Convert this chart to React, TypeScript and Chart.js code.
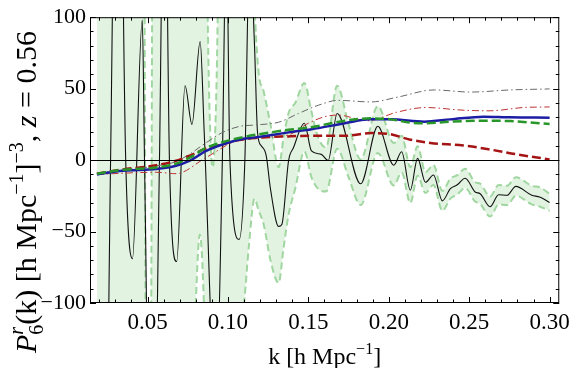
import React, { useEffect, useRef } from "react";
import { Chart, registerables } from "chart.js";

Chart.register(...registerables);

// ---------- data ----------
const kBlack = [0.0185, 0.0225, 0.027, 0.0315, 0.0364, 0.0406, 0.0467, 0.0481, 0.0525, 0.0574, 0.0605, 0.0636, 0.0681, 0.0733, 0.0776, 0.0827, 0.0852, 0.0925, 0.0965, 0.099, 0.1012, 0.107, 0.1105, 0.1135, 0.1165, 0.1184, 0.1207, 0.1238, 0.1264, 0.1315, 0.1335, 0.1377, 0.1407, 0.1475, 0.1519, 0.158, 0.1623, 0.1679, 0.1825, 0.1932, 0.2031, 0.208, 0.2134, 0.2179, 0.2228, 0.2278, 0.2333, 0.2383, 0.2426, 0.2475, 0.2537, 0.2568, 0.263, 0.2683, 0.2735, 0.279, 0.2889, 0.2938, 0.3];
const pBlack = [-200, -350, 0, 350, 0, -69, 98, 0, -300, 0, 250, 0, -71, 52, 25, 83, 20, -170, 0, 160, 0, -55.5, 0, 150, 80, 19, 10, 3, -20, -46.4, -45, -0.3, 8.6, 25.8, 6.5, 4, -0.3, 32.6, -16.6, 23.7, -3.6, 5.8, -21, 1.2, -15.5, -10.4, -28.5, -20, -17.3, -12.7, -22.3, -23.5, -32.6, -24.2, -24.6, -18.4, -24.6, -25.8, -29.7];

const kBand = [0.0185, 0.03, 0.046, 0.048, 0.049, 0.052, 0.053, 0.056, 0.076, 0.08, 0.0825, 0.085, 0.088, 0.0905, 0.093, 0.096, 0.1, 0.105, 0.11, 0.113, 0.1165, 0.119, 0.1222, 0.1264, 0.1315, 0.1345, 0.1377, 0.1418, 0.1475, 0.1519, 0.156, 0.161, 0.1679, 0.175, 0.1825, 0.1932, 0.2031, 0.208, 0.2134, 0.2179, 0.2228, 0.2278, 0.2333, 0.2383, 0.2426, 0.2475, 0.2537, 0.2568, 0.263, 0.2683, 0.2735, 0.279, 0.2889, 0.2938, 0.3];
const bandUpper = [400, 400, 400, 150, -150, -150, 150, 400, 400, 400, 400, 300, 60, -5, 60, 300, 400, 400, 350, 250, 110, 62, 48, 25, -5, 15, 33, 40, 54, 34, 16, 9, 52, 25, 0.5, 37.7, 12, 17, -5, 9.7, -8.5, -3.5, -21.5, -13, -10.5, -6, -15.5, -16.5, -25.5, -17.5, -18, -12, -18, -19, -23.5];
const bandLower = [-400, -400, -400, -400, -400, -400, -400, -400, -250, -100, -52, -100, -250, -400, -400, -300, -200, -140, -100, -60, -27, -35, -45, -70, -86, -62, -38, -20, 6, -12, -20, -22, 8, -12, -31.5, 5, -17.7, -8.6, -30, -10.9, -23, -17.5, -35.5, -27, -24, -19.5, -29, -30.5, -39.5, -31, -31.5, -25, -31, -32.5, -35.5];

const kBlue = [0.0185, 0.0348, 0.0554, 0.0677, 0.0759, 0.0862, 0.0965, 0.1068, 0.1171, 0.1377, 0.1519, 0.1727, 0.1889, 0.2012, 0.222, 0.2383, 0.2591, 0.2753, 0.3];
const pBlue = [-10, -7.4, -6.3, -4, -0.6, 6.3, 10.9, 14.3, 15.9, 19.4, 21.6, 25.8, 28.5, 28.5, 26.9, 28.5, 30.4, 29.9, 29.7];

const kGreen = [0.0185, 0.0348, 0.0554, 0.0677, 0.0759, 0.0862, 0.0965, 0.1068, 0.1171, 0.1377, 0.1519, 0.1727, 0.1889, 0.2012, 0.2134, 0.222, 0.2383, 0.2591, 0.2753, 0.3];
const pGreen = [-9.5, -6.8, -5.2, -2.5, 1.5, 8.5, 12.5, 15.5, 17.7, 21.2, 23, 27.6, 29.2, 28.5, 26.2, 25.8, 26.9, 27.6, 27.3, 25.3];

const kRed = [0.0185, 0.0348, 0.0554, 0.0677, 0.0759, 0.0862, 0.0965, 0.1068, 0.1171, 0.1377, 0.1519, 0.1727, 0.1889, 0.1994, 0.2134, 0.2259, 0.2464, 0.263, 0.2796, 0.3];
const pRed = [-9.5, -6.5, -3.6, -0.5, 3, 8, 11, 14, 15.5, 16.6, 17, 17, 18.9, 18.4, 14.3, 12, 10.2, 7.4, 4, 0.5];

const kGrayDD = [0.0185, 0.0554, 0.0677, 0.0759, 0.0862, 0.096, 0.1068, 0.1171, 0.1315, 0.1438, 0.1562, 0.1685, 0.1889, 0.2056, 0.2282, 0.2508, 0.2755, 0.3];
const pGrayDD = [-9, -4, -1, 4, 12, 19, 23.5, 24.6, 26.5, 32.6, 38.4, 41.8, 40.7, 44.1, 49.1, 47.6, 49.1, 49.8];

const kRedDD = [0.0185, 0.0554, 0.0677, 0.0862, 0.1068, 0.1377, 0.15, 0.1603, 0.1685, 0.1868, 0.2049, 0.2228, 0.2467, 0.263, 0.2836, 0.3];
const pRedDD = [-10, -8.5, -9.5, 1.7, 13.9, 17.7, 25.8, 30.4, 31.5, 27.5, 33.5, 36.8, 34.9, 34.5, 36.8, 37.2];

const xTickValues = [0.05, 0.1, 0.15, 0.2, 0.25, 0.3];
const yTickValues = [-100, -50, 0, 50, 100];

const SERIF = '"Liberation Serif", "Times New Roman", "DejaVu Serif", serif';

function pts(ks: number[], vs: number[]) {
  return ks.map((k, i) => ({ x: k, y: vs[i] }));
}

const framePlugin = {
  id: "frameTicks",
  afterDatasetsDraw(chart: any) {
    const { ctx, chartArea: a, scales } = chart;
    const xs = scales.x;
    const ys = scales.y;
    ctx.save();
    ctx.strokeStyle = "#000";
    ctx.lineWidth = 1;
    const y0 = Math.round(ys.getPixelForValue(0)) + 0.5;
    ctx.beginPath();
    ctx.moveTo(a.left, y0);
    ctx.lineTo(a.right, y0);
    ctx.stroke();
    ctx.strokeRect(a.left + 0.5, a.top + 0.5, a.right - a.left - 1, a.bottom - a.top - 1);
    ctx.beginPath();
    for (let i = 2; i <= 30; i++) {
      const px = Math.round(xs.getPixelForValue(i / 100)) + 0.5;
      const len = i % 5 === 0 ? 6 : 3.5;
      ctx.moveTo(px, a.bottom);
      ctx.lineTo(px, a.bottom - len);
      ctx.moveTo(px, a.top);
      ctx.lineTo(px, a.top + len);
    }
    for (let i = -10; i <= 10; i++) {
      const py = Math.round(ys.getPixelForValue(i * 10)) + 0.5;
      const len = i % 5 === 0 ? 6 : 3.5;
      ctx.moveTo(a.left, py);
      ctx.lineTo(a.left + len, py);
      ctx.moveTo(a.right, py);
      ctx.lineTo(a.right - len, py);
    }
    ctx.stroke();
    ctx.restore();
  },
};

type Piece = { t: string; font: string; dy: number; noAdv?: boolean };

function drawPieces(ctx: CanvasRenderingContext2D, pieces: Piece[], startX: number) {
  let x = startX;
  let pending = 0;
  for (const p of pieces) {
    ctx.font = p.font;
    const w = ctx.measureText(p.t).width;
    ctx.fillText(p.t, x, p.dy);
    if (p.noAdv) {
      pending = Math.max(pending, w);
    } else {
      x += Math.max(w, pending);
      pending = 0;
    }
  }
  return x;
}

function measurePieces(ctx: CanvasRenderingContext2D, pieces: Piece[]) {
  let x = 0;
  let pending = 0;
  for (const p of pieces) {
    ctx.font = p.font;
    const w = ctx.measureText(p.t).width;
    if (p.noAdv) pending = Math.max(pending, w);
    else {
      x += Math.max(w, pending);
      pending = 0;
    }
  }
  return x;
}

const titlePlugin = {
  id: "titles",
  afterDraw(chart: any) {
    const ctx: CanvasRenderingContext2D = chart.ctx;
    const a = chart.chartArea;
    ctx.save();
    ctx.fillStyle = "#000";
    ctx.textBaseline = "alphabetic";
    ctx.textAlign = "left";
    const S = 30;
    const s = 20;
    const yPieces: Piece[] = [
      { t: "P", font: `italic ${S}px ${SERIF}`, dy: 0 },
      { t: "r", font: `italic ${s}px ${SERIF}`, dy: -S * 0.42, noAdv: true },
      { t: "6", font: `${s}px ${SERIF}`, dy: S * 0.22 },
      { t: "(k) [h Mpc", font: `${S}px ${SERIF}`, dy: 0 },
      { t: "\u22121", font: `${s}px ${SERIF}`, dy: -S * 0.42 },
      { t: "]", font: `${S}px ${SERIF}`, dy: 0 },
      { t: "\u22123", font: `${s}px ${SERIF}`, dy: -S * 0.42 },
      { t: ", ", font: `${S}px ${SERIF}`, dy: 0 },
      { t: "z", font: `italic ${S}px ${SERIF}`, dy: 0 },
      { t: " = 0.56", font: `${S}px ${SERIF}`, dy: 0 },
    ];
    const yw = measurePieces(ctx, yPieces);
    ctx.save();
    ctx.translate(36, 192);
    ctx.rotate(-Math.PI / 2);
    drawPieces(ctx, yPieces, -yw / 2);
    ctx.restore();
    const X = 24;
    const xs = 16;
    const xPieces: Piece[] = [
      { t: "k [h Mpc", font: `${X}px ${SERIF}`, dy: 0 },
      { t: "\u22121", font: `${xs}px ${SERIF}`, dy: -X * 0.42 },
      { t: "]", font: `${X}px ${SERIF}`, dy: 0 },
    ];
    const xw = measurePieces(ctx, xPieces);
    const cx = (a.left + a.right) / 2;
    ctx.save();
    ctx.translate(0, 364);
    drawPieces(ctx, xPieces, cx - xw / 2);
    ctx.restore();
    ctx.restore();
  },
};

export default function App() {
  const ref = useRef<HTMLCanvasElement | null>(null);
  useEffect(() => {
    if (!ref.current) return;
    const bandEdge = {
      borderColor: "rgb(160,214,160)",
      borderWidth: 2,
      borderDash: [7, 4],
      pointRadius: 0,
      cubicInterpolationMode: "monotone" as const,
    };
    const chart = new Chart(ref.current, {
      type: "line",
      data: {
        datasets: [
          {
            ...bandEdge,
            data: pts(kBand, bandUpper),
            backgroundColor: "rgb(226,243,226)",
            fill: "+1",
            order: 20,
          },
          {
            ...bandEdge,
            data: pts(kBand, bandLower),
            fill: false,
            order: 19,
          },
          {
            data: pts(kBlack, pBlack),
            borderColor: "#111",
            borderWidth: 1.1,
            pointRadius: 0,
            fill: false,
            cubicInterpolationMode: "monotone",
            order: 10,
          },
          {
            data: pts(kGrayDD, pGrayDD),
            borderColor: "rgb(105,105,105)",
            borderWidth: 1,
            borderDash: [7, 3, 1.5, 3],
            pointRadius: 0,
            fill: false,
            cubicInterpolationMode: "monotone",
            order: 6,
          },
          {
            data: pts(kRedDD, pRedDD),
            borderColor: "rgb(190,50,50)",
            borderWidth: 1,
            borderDash: [7, 3, 1.5, 3],
            pointRadius: 0,
            fill: false,
            cubicInterpolationMode: "monotone",
            order: 5,
          },
          {
            data: pts(kRed, pRed),
            borderColor: "rgb(165,20,20)",
            borderWidth: 2.5,
            borderDash: [9, 4],
            pointRadius: 0,
            fill: false,
            cubicInterpolationMode: "monotone",
            order: 4,
          },
          {
            data: pts(kBlue, pBlue),
            borderColor: "rgb(28,28,165)",
            borderWidth: 2.5,
            pointRadius: 0,
            fill: false,
            cubicInterpolationMode: "monotone",
            order: 3,
          },
          {
            data: pts(kGreen, pGreen),
            borderColor: "rgb(40,150,40)",
            borderWidth: 2.5,
            borderDash: [9, 4],
            pointRadius: 0,
            fill: false,
            cubicInterpolationMode: "monotone",
            order: 2,
          },
        ],
      },
      options: {
        responsive: false,
        animation: false,
        layout: { padding: { top: 12, right: 13, left: 0, bottom: 0 } },
        plugins: {
          legend: { display: false },
          tooltip: { enabled: false },
        },
        scales: {
          x: {
            type: "linear",
            min: 0.0142,
            max: 0.306,
            grid: { display: false, drawTicks: false },
            border: { display: false },
            afterBuildTicks: (scale: any) => {
              scale.ticks = xTickValues.map((v) => ({ value: v }));
            },
            ticks: {
              autoSkip: false,
              maxRotation: 0,
              padding: 6,
              color: "#000",
              font: { family: SERIF, size: 23 },
              callback: (v: any) => Number(v).toFixed(2),
            },
            afterFit: (scale: any) => {
              scale.height = 65;
            },
          },
          y: {
            type: "linear",
            min: -100,
            max: 100,
            grid: { display: false, drawTicks: false },
            border: { display: false },
            afterBuildTicks: (scale: any) => {
              scale.ticks = yTickValues.map((v) => ({ value: v }));
            },
            ticks: {
              autoSkip: false,
              padding: 4,
              color: "#000",
              font: { family: SERIF, size: 22 },
              callback: (v: any) => (Number(v) < 0 ? "\u2212" + Math.abs(Number(v)) : String(v)),
            },
            afterFit: (scale: any) => {
              scale.width = 90;
            },
          },
        },
      },
      plugins: [framePlugin, titlePlugin],
    } as any);
    return () => chart.destroy();
  }, []);
  return (
    <div style={{ position: "fixed", left: 0, top: 0, width: 576, height: 368, background: "#fff" }}>
      <canvas ref={ref} width={576} height={368} style={{ width: 576, height: 368, display: "block" }} />
    </div>
  );
}
